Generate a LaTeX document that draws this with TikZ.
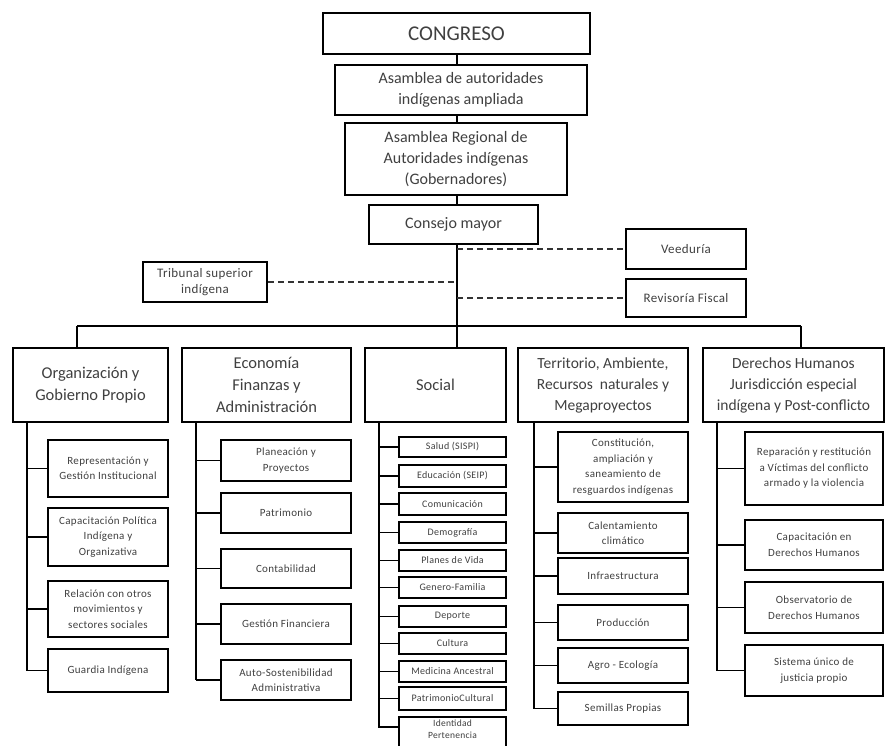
\documentclass[tikz,border=0pt]{standalone}
\usepackage{fontspec}
\setmainfont{Carlito}
\newfontfamily\spacedfont{Carlito}[LetterSpace=3]
\usetikzlibrary{calc}
\begin{document}
\begin{tikzpicture}[x=1pt,y=-1pt,
  base/.style={draw=black, fill=white, inner sep=1pt, align=center, text=black!75},
  topbox/.style={base, line width=1.9pt, font=\fontsize{16}{21}\selectfont},
  catbox/.style={base, line width=1.9pt, font=\fontsize{16.5}{22}\selectfont},
  sidebox/.style={base, line width=1.8pt, font=\spacedfont\fontsize{13}{15.5}\selectfont},
  subbox/.style={base, line width=1.8pt, font=\spacedfont\fontsize{11}{15.5}\selectfont},
  socbox/.style={base, line width=1.6pt, font=\spacedfont\fontsize{10}{11}\selectfont},
  soctext/.style={align=center, inner sep=0pt, text=black!75, font=\spacedfont\fontsize{9.5}{12}\selectfont},
  conn/.style={line width=1.5pt, draw=black},
  dashline/.style={line width=1.3pt, draw=black!80, dash pattern=on 6pt off 4pt}
]
\useasboundingbox (0,0) rectangle (886,746);
\clip (0,0) rectangle (886,746);

% top chain
\node[topbox, minimum width=267pt, minimum height=41pt, font=\fontsize{21}{24}\selectfont] (congreso) at (456.5,33.5) {CONGRESO};
\node[topbox, minimum width=252pt, minimum height=50pt] (asam1) at (461,90) {Asamblea de autoridades\\indígenas ampliada};
\node[topbox, minimum width=222pt, minimum height=72pt] (asam2) at (456,159) {Asamblea Regional de\\Autoridades indígenas\\(Gobernadores)};
\node[topbox, minimum width=169pt, minimum height=39pt] (consejo) at (453.5,224.5) {Consejo mayor};

\node[sidebox, minimum width=120pt, minimum height=40pt] (veeduria) at (686,249) {Veeduría};
\node[sidebox, minimum width=120pt, minimum height=38pt] (revisoria) at (686,298) {Revisoría Fiscal};
\node[sidebox, minimum width=124pt, minimum height=40pt] (tribunal) at (205,282) {Tribunal superior\\indígena};

\coordinate (busL) at (77,326);
\coordinate (busM) at (457,326);
\coordinate (busR) at (801,326);

\draw[conn] (busM |- congreso.south) -- (busM |- asam1.north);
\draw[conn] (busM |- asam1.south) -- (busM |- asam2.north);
\draw[conn] (busM |- asam2.south) -- (busM |- consejo.north);
\draw[conn] (busM |- consejo.south) -- (busM);

\draw[dashline] (busM |- veeduria.west) -- (veeduria.west);
\draw[dashline] (busM |- revisoria.west) -- (revisoria.west);
\draw[dashline] (tribunal.east) -- (tribunal.east -| busM);

% categories
\node[catbox, minimum width=155pt, minimum height=74pt] (org) at (90.5,385) {Organización y\\Gobierno Propio};
\node[catbox, minimum width=169pt, minimum height=74pt] (eco) at (266.5,385) {Economía\\Finanzas y\\Administración};
\node[catbox, minimum width=141pt, minimum height=74pt] (soc) at (435.5,385) {Social};
\node[catbox, minimum width=170pt, minimum height=74pt, font=\fontsize{15.5}{21}\selectfont] (terr) at (603,385) {Territorio, Ambiente,\\Recursos\ \ naturales y\\Megaproyectos};
\node[catbox, minimum width=181pt, minimum height=74pt, font=\fontsize{15.5}{21}\selectfont] (der) at (793.5,385) {Derechos Humanos\\Jurisdicción especial\\indígena y Post-conflicto};

\draw[conn] (busL) -- (busR);
\draw[conn] (busL) -- (busL |- org.north);
\draw[conn] (busM) -- (busM |- soc.north);
\draw[conn] (busR) -- (busR |- der.north);

% Organizacion column
\node[subbox, minimum width=120pt, minimum height=57pt] (o1) at (108,468.5) {Representación y\\Gestión Institucional};
\node[subbox, minimum width=120pt, minimum height=58pt] (o2) at (108,537) {Capacitación Política\\Indígena y\\Organizativa};
\node[subbox, minimum width=120pt, minimum height=56pt] (o3) at (108,609) {Relación con otros\\movimientos y\\sectores sociales};
\node[subbox, minimum width=120pt, minimum height=43pt] (o4) at (108,670.5) {Guardia Indígena};
\coordinate (osp) at (27,422);
\draw[conn] (osp) -- (osp |- o4.west);
\foreach \n in {o1,o2,o3,o4} \draw[conn] (osp |- \n.west) -- (\n.west);

% Economia column
\node[subbox, minimum width=130pt, minimum height=41pt] (e1) at (286,460.5) {Planeación y\\Proyectos};
\node[subbox, minimum width=130pt, minimum height=40pt] (e2) at (286,513) {Patrimonio};
\node[subbox, minimum width=130pt, minimum height=39pt] (e3) at (286,568.5) {Contabilidad};
\node[subbox, minimum width=130pt, minimum height=40pt] (e4) at (286,624) {Gestión Financiera};
\node[subbox, minimum width=130pt, minimum height=40pt] (e5) at (286,680) {Auto-Sostenibilidad\\Administrativa};
\coordinate (esp) at (196,422);
\draw[conn] (esp) -- (esp |- e5.west);
\foreach \n in {e1,e2,e3,e4,e5} \draw[conn] (esp |- \n.west) -- (\n.west);

% Social column
\node[socbox, minimum width=107pt, minimum height=20pt] (s1) at (452.5,447) {Salud (SISPI)};
\node[socbox, minimum width=107pt, minimum height=22pt] (s2) at (452.5,476) {Educación (SEIP)};
\node[socbox, minimum width=107pt, minimum height=22pt] (s3) at (452.5,504) {Comunicación};
\node[socbox, minimum width=107pt, minimum height=21pt] (s4) at (452.5,532.5) {Demografía};
\node[socbox, minimum width=107pt, minimum height=21pt] (s5) at (452.5,560.5) {Planes de Vida};
\node[socbox, minimum width=107pt, minimum height=21pt] (s6) at (452.5,587.5) {Genero-Familia};
\node[socbox, minimum width=107pt, minimum height=21pt] (s7) at (452.5,616.5) {Deporte};
\node[socbox, minimum width=107pt, minimum height=21pt] (s8) at (452.5,643.5) {Cultura};
\node[socbox, minimum width=107pt, minimum height=21pt] (s9) at (452.5,671.5) {Medicina Ancestral};
\node[socbox, minimum width=107pt, minimum height=23pt] (s10) at (452.5,698.5) {PatrimonioCultural};
\node[socbox, minimum width=107pt, minimum height=43pt] (s11) at (452.5,738.5) {};
\node[soctext] (s11t) at (452.5,729.5) {Identidad\\Pertenencia};
\coordinate (ssp) at (379,422);
\coordinate (s11c) at ($(s11.north west)+(0,11)$);
\draw[conn] (ssp) -- (ssp |- s11c) -- (s11c);
\foreach \n in {s1,s2,s3,s4,s5,s6,s7,s8,s9,s10} \draw[conn] (ssp |- \n.west) -- (\n.west);

% Territorio column
\node[subbox, minimum width=130pt, minimum height=70pt] (t1) at (623,467) {Constitución,\\ampliación y\\saneamiento de\\resguardos indígenas};
\node[subbox, minimum width=130pt, minimum height=40pt] (t2) at (623,533) {Calentamiento\\climático};
\node[subbox, minimum width=130pt, minimum height=36pt] (t3) at (623,576) {Infraestructura};
\node[subbox, minimum width=130pt, minimum height=35pt] (t4) at (623,622.5) {Producción};
\node[subbox, minimum width=130pt, minimum height=35pt] (t5) at (623,665.5) {Agro - Ecología};
\node[subbox, minimum width=130pt, minimum height=33pt] (t6) at (623,708.5) {Semillas Propias};
\coordinate (tsp) at (534,422);
\draw[conn] (tsp) -- (tsp |- t6.west);
\foreach \n in {t1,t2,t3,t4,t5,t6} \draw[conn] (tsp |- \n.west) -- (\n.west);

% Derechos column
\node[subbox, minimum width=138pt, minimum height=73pt] (d1) at (814,468.5) {Reparación y restitución\\a Víctimas del conflicto\\armado y la violencia};
\node[subbox, minimum width=138pt, minimum height=50pt] (d2) at (814,545) {Capacitación en\\Derechos Humanos};
\node[subbox, minimum width=138pt, minimum height=51pt] (d3) at (814,607.5) {Observatorio de\\Derechos Humanos};
\node[subbox, minimum width=138pt, minimum height=51pt] (d4) at (814,670.5) {Sistema único de\\justicia propio};
\coordinate (dsp) at (717,422);
\draw[conn] (dsp) -- (dsp |- d4.west);
\foreach \n in {d1,d2,d3,d4} \draw[conn] (dsp |- \n.west) -- (\n.west);
\end{tikzpicture}
\end{document}
